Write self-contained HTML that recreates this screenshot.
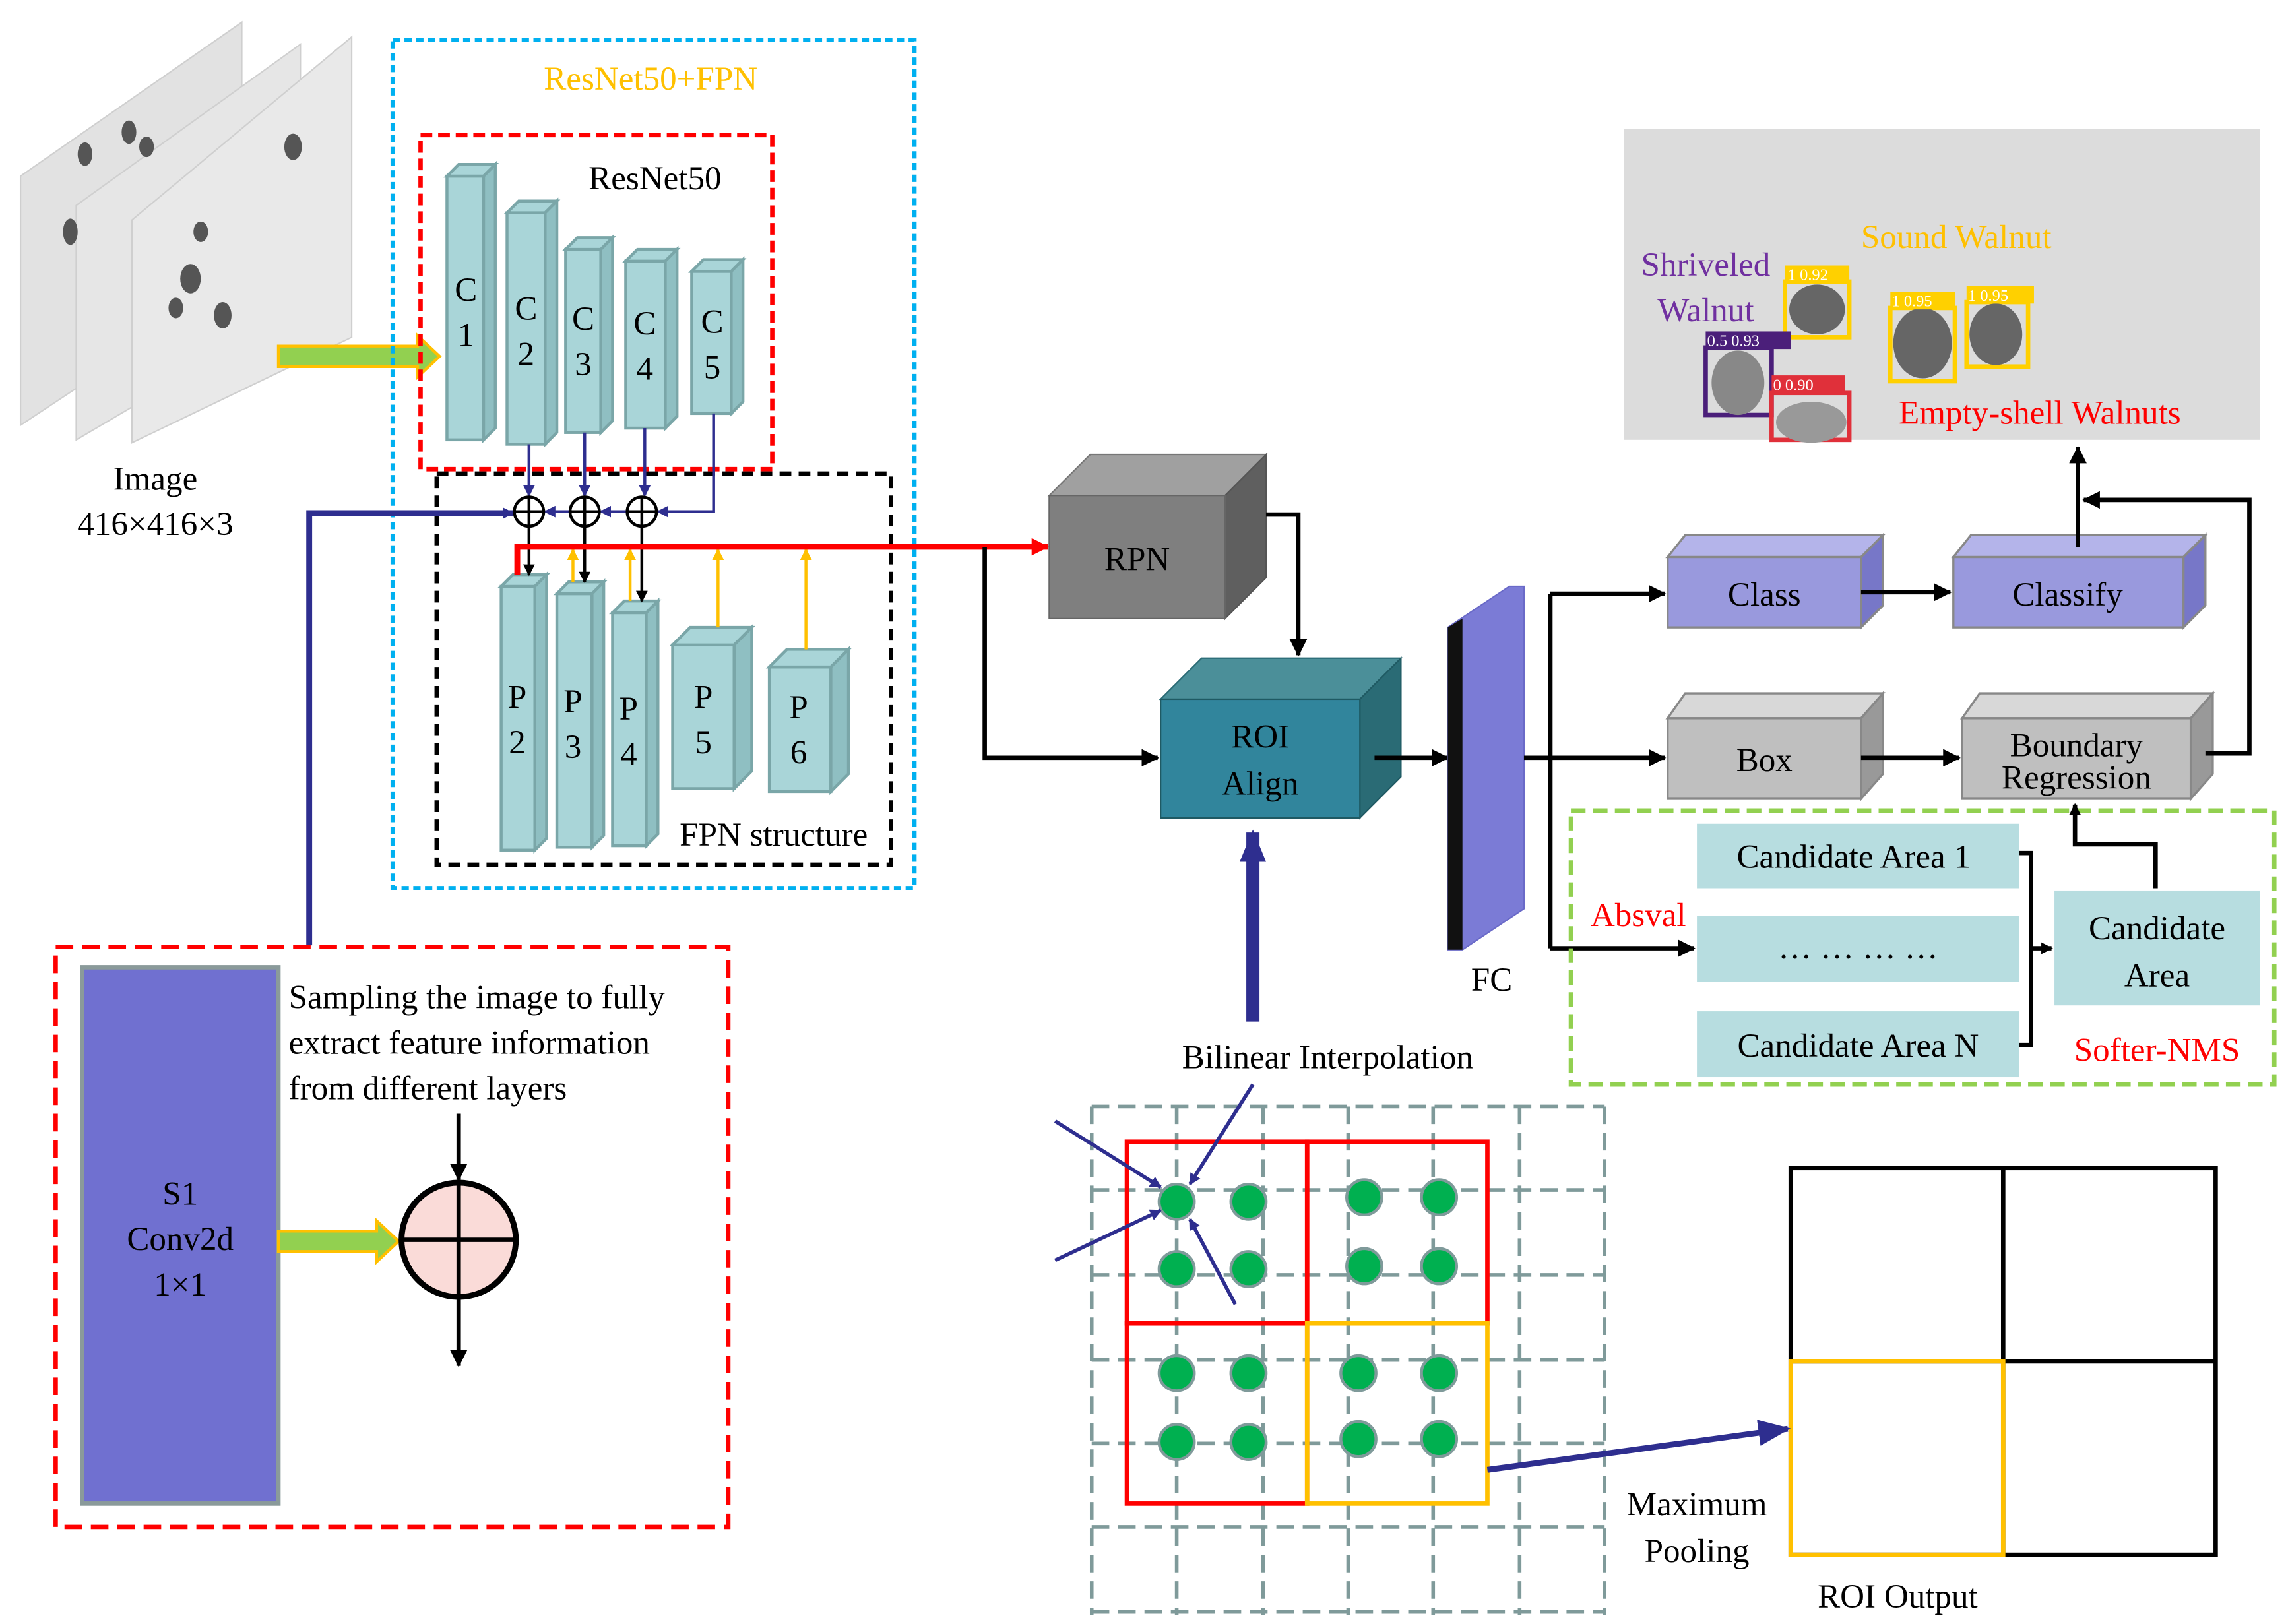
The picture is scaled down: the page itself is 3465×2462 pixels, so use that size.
<!DOCTYPE html>
<html><head><meta charset="utf-8"><style>
html,body{margin:0;padding:0;background:#fff}
svg{display:block}
text{font-family:"Liberation Serif",serif;}
</style></head><body>
<svg width="3465" height="2462" viewBox="0 0 1560 1108" xmlns="http://www.w3.org/2000/svg">
<defs>
<marker id="ak" markerWidth="8" markerHeight="8" refX="7" refY="4" orient="auto" markerUnits="userSpaceOnUse"><path d="M0,0 L8,4 L0,8z" fill="#000"/></marker>
<marker id="ak2" markerWidth="12" markerHeight="12" refX="11" refY="6" orient="auto" markerUnits="userSpaceOnUse"><path d="M0,0 L12,6 L0,12z" fill="#000"/></marker>
<marker id="ab" markerWidth="8" markerHeight="8" refX="7" refY="4" orient="auto" markerUnits="userSpaceOnUse"><path d="M0,0 L8,4 L0,8z" fill="#2e2e8f"/></marker>
<marker id="ab2" markerWidth="22" markerHeight="18" refX="20" refY="9" orient="auto" markerUnits="userSpaceOnUse"><path d="M0,0 L22,9 L0,18z" fill="#2e2e8f"/></marker>
<marker id="ay" markerWidth="8" markerHeight="8" refX="7" refY="4" orient="auto" markerUnits="userSpaceOnUse"><path d="M0,0 L8,4 L0,8z" fill="#ffc000"/></marker>
<marker id="ar" markerWidth="12" markerHeight="12" refX="11" refY="6" orient="auto" markerUnits="userSpaceOnUse"><path d="M0,0 L12,6 L0,12z" fill="#ff0000"/></marker>
</defs>

<!-- image stack -->
<polygon points="14,120 165,15 165,190 14,290" fill="#e2e2e2" stroke="#cfcfcf"/>
<polygon points="52,140 205,30 205,210 52,300" fill="#e6e6e6" stroke="#cfcfcf"/>
<polygon points="90,150 240,25 240,230 90,302" fill="#e9e9e9" stroke="#cfcfcf"/>
<g fill="#555">
<ellipse cx="48" cy="158" rx="5" ry="9"/><ellipse cx="58" cy="105" rx="5" ry="8"/><ellipse cx="88" cy="90" rx="5" ry="8"/>
<ellipse cx="100" cy="100" rx="5" ry="7"/><ellipse cx="130" cy="190" rx="7" ry="10"/><ellipse cx="152" cy="215" rx="6" ry="9"/>
<ellipse cx="137" cy="158" rx="5" ry="7"/><ellipse cx="200" cy="100" rx="6" ry="9"/><ellipse cx="120" cy="210" rx="5" ry="7"/>
</g>
<text x="106" y="334" font-size="23" text-anchor="middle">Image</text>
<text x="106" y="365" font-size="23" text-anchor="middle">416×416×3</text>
<!-- green arrow -->
<polygon points="190,236 285,236 285,229 300,243 285,257 285,250 190,250" fill="#92d050" stroke="#ffc000" stroke-width="2"/>

<!-- boxes -->
<rect x="268" y="27" width="356" height="579" fill="none" stroke="#00b0f0" stroke-width="3" stroke-dasharray="5,3"/>
<text x="444" y="61" font-size="23" fill="#ffc000" text-anchor="middle">ResNet50+FPN</text>
<rect x="287" y="92" width="240" height="228" fill="none" stroke="#ff0000" stroke-width="3" stroke-dasharray="8,4"/>
<text x="447" y="129" font-size="23" text-anchor="middle">ResNet50</text>
<rect x="298" y="323" width="310" height="267" fill="none" stroke="#000" stroke-width="3" stroke-dasharray="8,5"/>
<text x="528" y="577" font-size="23" text-anchor="middle">FPN structure</text>

<!-- C blocks -->
<g fill="#a9d5d8" stroke="#7aa6a8" stroke-width="2">
<g><rect x="305" y="120" width="25" height="180"/><polygon points="305,120 313,112 338,112 330,120"/><polygon points="330,120 338,112 338,292 330,300" fill="#8fbfc2"/></g>
<g><rect x="346" y="145" width="26" height="158"/><polygon points="346,145 354,137 380,137 372,145"/><polygon points="372,145 380,137 380,295 372,303" fill="#8fbfc2"/></g>
<g><rect x="386" y="170" width="24" height="125"/><polygon points="386,170 394,162 418,162 410,170"/><polygon points="410,170 418,162 418,287 410,295" fill="#8fbfc2"/></g>
<g><rect x="427" y="178" width="27" height="114"/><polygon points="427,178 435,170 462,170 454,178"/><polygon points="454,178 462,170 462,284 454,292" fill="#8fbfc2"/></g>
<g><rect x="472" y="185" width="27" height="97"/><polygon points="472,185 480,177 507,177 499,185"/><polygon points="499,185 507,177 507,274 499,282" fill="#8fbfc2"/></g>
<!-- P blocks -->
<g><rect x="342" y="400" width="23" height="180"/><polygon points="342,400 350,392 373,392 365,400"/><polygon points="365,400 373,392 373,572 365,580" fill="#8fbfc2"/></g>
<g><rect x="380" y="405" width="24" height="173"/><polygon points="380,405 388,397 412,397 404,405"/><polygon points="404,405 412,397 412,570 404,578" fill="#8fbfc2"/></g>
<g><rect x="418" y="418" width="23" height="159"/><polygon points="418,418 426,410 449,410 441,418"/><polygon points="441,418 449,410 449,569 441,577" fill="#8fbfc2"/></g>
<g><rect x="459" y="440" width="42" height="98"/><polygon points="459,440 471,428 513,428 501,440"/><polygon points="501,440 513,428 513,526 501,538" fill="#8fbfc2"/></g>
<g><rect x="525" y="455" width="42" height="85"/><polygon points="525,455 537,443 579,443 567,455"/><polygon points="567,455 579,443 579,528 567,540" fill="#8fbfc2"/></g>
</g>
<g font-size="23" text-anchor="middle">
<text x="318" y="205">C</text><text x="318" y="236">1</text>
<text x="359" y="218">C</text><text x="359" y="249">2</text>
<text x="398" y="225">C</text><text x="398" y="256">3</text>
<text x="440" y="228">C</text><text x="440" y="259">4</text>
<text x="486" y="227">C</text><text x="486" y="258">5</text>
<text x="353" y="483">P</text><text x="353" y="514">2</text>
<text x="391" y="486">P</text><text x="391" y="517">3</text>
<text x="429" y="491">P</text><text x="429" y="522">4</text>
<text x="480" y="483">P</text><text x="480" y="514">5</text>
<text x="545" y="490">P</text><text x="545" y="521">6</text>
</g>

<!-- FPN connectors -->
<g stroke="#2e2e8f" stroke-width="2" fill="none">
<line x1="361" y1="303" x2="361" y2="338" marker-end="url(#ab)"/>
<line x1="399" y1="295" x2="399" y2="338" marker-end="url(#ab)"/>
<line x1="440" y1="292" x2="440" y2="338" marker-end="url(#ab)"/>
<polyline points="487,282 487,349 449,349" marker-end="url(#ab)"/>
<line x1="428" y1="349" x2="410" y2="349" marker-end="url(#ab)"/>
<line x1="389" y1="349" x2="372" y2="349" marker-end="url(#ab)"/>
</g>
<polyline points="211,645 211,350 350,350" fill="none" stroke="#2e2e8f" stroke-width="4" marker-end="url(#ab)"/>
<g stroke="#000" stroke-width="2" fill="#fff">
<circle cx="361" cy="349" r="10"/><circle cx="399" cy="349" r="10"/><circle cx="438" cy="349" r="10"/>
<path d="M351,349h20M361,339v20M389,349h20M399,339v20M428,349h20M438,339v20" fill="none"/>
</g>
<g stroke="#000" stroke-width="2">
<line x1="361" y1="359" x2="361" y2="392" marker-end="url(#ak)"/>
<line x1="399" y1="359" x2="399" y2="397" marker-end="url(#ak)"/>
<line x1="438" y1="359" x2="438" y2="410" marker-end="url(#ak)"/>
</g>
<g stroke="#ffc000" stroke-width="2">
<line x1="490" y1="428" x2="490" y2="375" marker-end="url(#ay)"/>
<line x1="550" y1="443" x2="550" y2="375" marker-end="url(#ay)"/>
<line x1="391" y1="397" x2="391" y2="375" marker-end="url(#ay)"/>
<line x1="430" y1="410" x2="430" y2="375" marker-end="url(#ay)"/>
</g>
<polyline points="353,392 353,373 715,373" fill="none" stroke="#ff0000" stroke-width="4" marker-end="url(#ar)"/>

<!-- RPN -->
<polygon points="716,338 744,310 864,310 836,338" fill="#a0a0a0" stroke="#777"/>
<polygon points="836,338 864,310 864,394 836,422" fill="#5f5f5f" stroke="#555"/>
<rect x="716" y="338" width="120" height="84" fill="#7f7f7f" stroke="#666"/>
<text x="776" y="389" font-size="23" text-anchor="middle">RPN</text>
<!-- ROI Align -->
<polygon points="792,477 820,449 956,449 928,477" fill="#4b8f99" stroke="#2a6b75"/>
<polygon points="928,477 956,449 956,530 928,558" fill="#2a6b75" stroke="#1f5a63"/>
<rect x="792" y="477" width="136" height="81" fill="#31859c" stroke="#1f5a63"/>
<text x="860" y="510" font-size="23" text-anchor="middle">ROI</text>
<text x="860" y="542" font-size="23" text-anchor="middle">Align</text>
<g stroke="#000" stroke-width="3" fill="none">
<polyline points="864,351 886,351 886,447" marker-end="url(#ak2)"/>
<polyline points="672,373 672,517 790,517" marker-end="url(#ak2)"/>
<line x1="938" y1="517" x2="988" y2="517" marker-end="url(#ak2)"/>
</g>
<line x1="855" y1="697" x2="855" y2="568" stroke="#2e2e8f" stroke-width="9" marker-end="url(#ab2)"/>

<!-- FC -->
<polygon points="988,428 1030,400 1040,400 1040,620 998,648 988,648" fill="#7b7bd6" stroke="#6a6ac8"/>
<polygon points="988,428 998,422 998,648 988,648" fill="#111"/>
<text x="1018" y="676" font-size="23" text-anchor="middle">FC</text>
<g stroke="#000" stroke-width="3" fill="none">
<line x1="1040" y1="517" x2="1058" y2="517"/>
<line x1="1058" y1="405" x2="1058" y2="647"/>
<line x1="1058" y1="405" x2="1136" y2="405" marker-end="url(#ak2)"/>
<line x1="1058" y1="517" x2="1136" y2="517" marker-end="url(#ak2)"/>
<line x1="1058" y1="647" x2="1156" y2="647" marker-end="url(#ak2)"/>
</g>

<!-- Class / Classify / Box / Boundary -->
<g stroke="#888" stroke-width="1.5">
<polygon points="1138,380 1150,365 1285,365 1270,380" fill="#b4b4ea"/><polygon points="1270,380 1285,365 1285,413 1270,428" fill="#7777c8"/><rect x="1138" y="380" width="132" height="48" fill="#9999dd"/>
<polygon points="1333,380 1345,365 1505,365 1490,380" fill="#b4b4ea"/><polygon points="1490,380 1505,365 1505,413 1490,428" fill="#7777c8"/><rect x="1333" y="380" width="157" height="48" fill="#9999dd"/>
<polygon points="1138,490 1150,473 1285,473 1270,490" fill="#d8d8d8"/><polygon points="1270,490 1285,473 1285,528 1270,545" fill="#999"/><rect x="1138" y="490" width="132" height="55" fill="#bfbfbf"/>
<polygon points="1339,490 1351,473 1510,473 1495,490" fill="#d8d8d8"/><polygon points="1495,490 1510,473 1510,528 1495,545" fill="#999"/><rect x="1339" y="490" width="156" height="55" fill="#bfbfbf"/>
</g>
<g font-size="23" text-anchor="middle">
<text x="1204" y="413">Class</text><text x="1411" y="413">Classify</text>
<text x="1204" y="526">Box</text><text x="1417" y="516">Boundary</text><text x="1417" y="538">Regression</text>
</g>
<g stroke="#000" stroke-width="3" fill="none">
<line x1="1270" y1="404" x2="1331" y2="404" marker-end="url(#ak2)"/>
<line x1="1270" y1="517" x2="1337" y2="517" marker-end="url(#ak2)"/>
<polyline points="1505,514 1535,514 1535,341 1422,341" marker-end="url(#ak2)"/>
<line x1="1418" y1="373" x2="1418" y2="305" marker-end="url(#ak2)"/>
</g>

<!-- walnut photo -->
<rect x="1108" y="88" width="434" height="212" fill="#dcdcdc"/>
<g stroke-width="3" fill="none">
<rect x="1218" y="192" width="44" height="38" stroke="#ffd000"/>
<rect x="1290" y="210" width="44" height="50" stroke="#ffd000"/>
<rect x="1342" y="206" width="42" height="44" stroke="#ffd000"/>
<rect x="1164" y="237" width="45" height="46" stroke="#4b1f7a"/>
<rect x="1209" y="268" width="53" height="32" stroke="#e0303a"/>
</g>
<g fill="#666"><ellipse cx="1240" cy="211" rx="19" ry="17"/><ellipse cx="1312" cy="234" rx="20" ry="24"/><ellipse cx="1362" cy="228" rx="18" ry="21"/><ellipse cx="1186" cy="261" rx="18" ry="22" fill="#888"/><ellipse cx="1236" cy="288" rx="24" ry="14" fill="#999"/></g>
<g font-family="Liberation Sans" font-size="11" fill="#fff">
<rect x="1218" y="181" width="44" height="12" fill="#ffd000"/><text x="1220" y="191">1  0.92</text>
<rect x="1290" y="199" width="44" height="12" fill="#ffd000"/><text x="1291" y="209">1  0.95</text>
<rect x="1342" y="195" width="46" height="12" fill="#ffd000"/><text x="1343" y="205">1  0.95</text>
<rect x="1164" y="226" width="58" height="12" fill="#4b1f7a"/><text x="1165" y="236">0.5  0.93</text>
<rect x="1209" y="256" width="50" height="12" fill="#e0303a"/><text x="1210" y="266">0  0.90</text>
</g>
<text x="1335" y="169" font-size="23" fill="#ffc000" text-anchor="middle">Sound Walnut</text>
<text x="1164" y="188" font-size="23" fill="#7030a0" text-anchor="middle">Shriveled</text>
<text x="1164" y="219" font-size="23" fill="#7030a0" text-anchor="middle">Walnut</text>
<text x="1392" y="289" font-size="23" fill="#ff0000" text-anchor="middle">Empty-shell Walnuts</text>

<!-- Softer-NMS box -->
<rect x="1072" y="553" width="480" height="187" fill="none" stroke="#92d050" stroke-width="3" stroke-dasharray="10,5"/>
<g fill="#b7dde0">
<rect x="1158" y="562" width="220" height="44"/><rect x="1158" y="625" width="220" height="45"/><rect x="1158" y="690" width="220" height="45"/>
<rect x="1402" y="608" width="140" height="78"/>
</g>
<g font-size="23" text-anchor="middle">
<text x="1265" y="592">Candidate Area 1</text><text x="1268" y="654">… … … …</text><text x="1268" y="721">Candidate Area N</text>
<text x="1472" y="641">Candidate</text><text x="1472" y="673">Area</text>
</g>
<text x="1118" y="632" font-size="23" fill="#ff0000" text-anchor="middle">Absval</text>
<text x="1472" y="724" font-size="23" fill="#ff0000" text-anchor="middle">Softer-NMS</text>
<g stroke="#000" stroke-width="3" fill="none">
<polyline points="1378,582 1386,582 1386,713 1378,713"/>
<line x1="1386" y1="647" x2="1400" y2="647" marker-end="url(#ak)"/>
<polyline points="1471,606 1471,576 1416,576 1416,549" marker-end="url(#ak)"/>
</g>

<!-- bottom-left -->
<rect x="38" y="646" width="459" height="396" fill="none" stroke="#ff0000" stroke-width="3" stroke-dasharray="12,6"/>
<rect x="56" y="660" width="134" height="366" fill="#7070d0" stroke="#8a9a9a" stroke-width="3"/>
<g font-size="23" text-anchor="middle"><text x="123" y="822">S1</text><text x="123" y="853">Conv2d</text><text x="123" y="884">1×1</text></g>
<g font-size="23"><text x="197" y="688">Sampling the image to fully</text><text x="197" y="719">extract feature information</text><text x="197" y="750">from different layers</text></g>
<polygon points="190,840 257,840 257,833 272,847 257,861 257,854 190,854" fill="#92d050" stroke="#ffc000" stroke-width="2"/>
<circle cx="313" cy="846" r="39" fill="#fadbd8" stroke="#000" stroke-width="4"/>
<path d="M274,846h78M313,807v78" stroke="#000" stroke-width="3"/>
<line x1="313" y1="760" x2="313" y2="805" stroke="#000" stroke-width="3" marker-end="url(#ak2)"/>
<line x1="313" y1="885" x2="313" y2="932" stroke="#000" stroke-width="3" marker-end="url(#ak2)"/>

<!-- bilinear grid -->
<text x="906" y="729" font-size="23" text-anchor="middle">Bilinear Interpolation</text>
<g stroke="#7f9a9a" stroke-width="2.5" stroke-dasharray="12,6" fill="none">
<path d="M745,755V1102M803,755V1102M862,755V1102M920,755V1102M978,755V1102M1037,755V1102M1095,755V1102"/>
<path d="M745,755H1095M745,812H1095M745,870H1095M745,928H1095M745,985H1095M745,1042H1095M745,1100H1095"/>
</g>
<g fill="none" stroke-width="3">
<rect x="769" y="779" width="123" height="124" stroke="#ff0000"/><rect x="892" y="779" width="123" height="124" stroke="#ff0000"/>
<rect x="769" y="903" width="123" height="123" stroke="#ff0000"/><rect x="892" y="903" width="123" height="123" stroke="#ffc000"/>
</g>
<g fill="#00b050" stroke="#7f9a9a" stroke-width="2">
<circle cx="803" cy="820" r="12"/><circle cx="852" cy="820" r="12"/><circle cx="803" cy="866" r="12"/><circle cx="852" cy="866" r="12"/>
<circle cx="931" cy="817" r="12"/><circle cx="982" cy="817" r="12"/><circle cx="931" cy="864" r="12"/><circle cx="982" cy="864" r="12"/>
<circle cx="803" cy="937" r="12"/><circle cx="852" cy="937" r="12"/><circle cx="803" cy="984" r="12"/><circle cx="852" cy="984" r="12"/>
<circle cx="927" cy="937" r="12"/><circle cx="982" cy="937" r="12"/><circle cx="927" cy="982" r="12"/><circle cx="982" cy="982" r="12"/>
</g>
<g stroke="#2e2e8f" stroke-width="2.5">
<line x1="720" y1="765" x2="792" y2="810" marker-end="url(#ab)"/>
<line x1="720" y1="860" x2="792" y2="826" marker-end="url(#ab)"/>
<line x1="855" y1="740" x2="812" y2="808" marker-end="url(#ab)"/>
<line x1="843" y1="890" x2="812" y2="832" marker-end="url(#ab)"/>
</g>

<!-- ROI output -->
<rect x="1222" y="797" width="290" height="264" fill="none" stroke="#000" stroke-width="3"/>
<path d="M1367,797V1061M1222,929H1512" stroke="#000" stroke-width="3"/>
<rect x="1222" y="929" width="145" height="132" fill="none" stroke="#ffc000" stroke-width="3"/>
<line x1="1015" y1="1003" x2="1220" y2="975" stroke="#2e2e8f" stroke-width="4" marker-end="url(#ab2)"/>
<g font-size="23" text-anchor="middle"><text x="1158" y="1034">Maximum</text><text x="1158" y="1066">Pooling</text><text x="1295" y="1097">ROI Output</text></g>
</svg>
</body></html>
